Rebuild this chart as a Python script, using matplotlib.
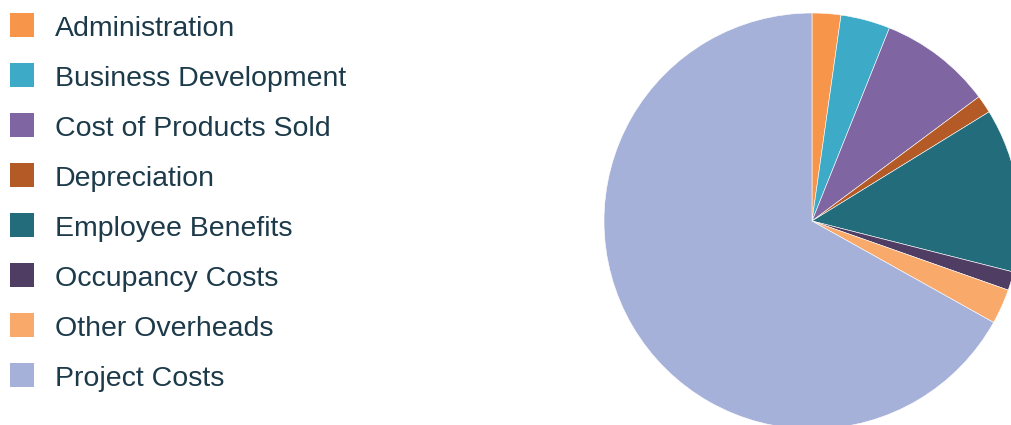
import matplotlib.pyplot as plt
from matplotlib.patches import Rectangle

categories = ['Administration', 'Business Development', 'Cost of Products Sold',
              'Depreciation', 'Employee Benefits', 'Occupancy Costs',
              'Other Overheads', 'Project Costs']
shares = [2.23, 3.84, 8.75, 1.39, 12.74, 1.44, 2.72, 66.89]
colors = ['#F7964A', '#3DAAC7', '#7F66A2', '#B45A27',
          '#226C7C', '#4F3D63', '#F9AA6A', '#A6B1D9']

W, H = 1012, 425
fig = plt.figure(figsize=(W / 100, H / 100), dpi=100)

# pie: centre (812, 221) px from top-left, radius 208 px
cx, cy, r = 812, 221, 208
ax = fig.add_axes([(cx - r) / W, (H - cy - r) / H, 2 * r / W, 2 * r / H])
ax.pie(shares, colors=colors, startangle=90, counterclock=False, radius=1,
       wedgeprops=dict(edgecolor='white', linewidth=0.4))
ax.set_xlim(-1, 1)
ax.set_ylim(-1, 1)
ax.set_aspect('equal')
ax.axis('off')

# legend drawn by hand
text_color = '#1C3A4A'
for i, (name, col) in enumerate(zip(categories, colors)):
    yc = 25 + 50 * i
    fig.patches.append(Rectangle((10 / W, 1 - (yc + 12) / H), 24 / W, 24 / H,
                                 transform=fig.transFigure, facecolor=col,
                                 edgecolor='none'))
    fig.text(55 / W, 1 - (yc + 4) / H, name, fontsize=20.5, color=text_color,
             family='Liberation Sans', va='center', ha='left')

fig.savefig('out.png', dpi=100)
